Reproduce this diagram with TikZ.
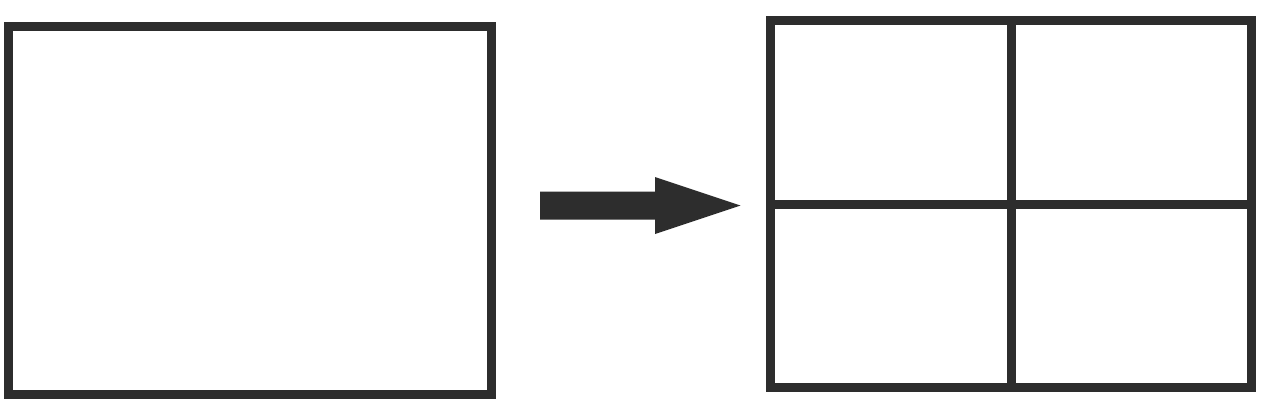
\documentclass[tikz,border=0pt]{standalone}
\usepackage{tikz}
\usetikzlibrary{positioning,calc}
\definecolor{inkDark}{RGB}{45, 45, 45}
\definecolor{inkWhite}{RGB}{255, 255, 255}

\begin{document}
\begin{tikzpicture}[x=1pt, y=-1pt, line width=9pt]
                \useasboundingbox[fill=inkWhite] (0,0) rectangle (1263,410);
                % single frame
                \draw[inkDark] (8.5,26.5) rectangle (491,394.5);
                % arrow
                \fill[inkDark] (540,191.5) -- (655,191.5) -- (655,177) -- (740.5,205.5)
                    -- (655,234) -- (655,219.5) -- (540,219.5) -- cycle;
                % frame split into four
                \draw[inkDark] (770,20) rectangle (1251.5,387);
                \draw[inkDark] (1011.5,20) -- (1011.5,387);
                \draw[inkDark] (770,204) -- (1251.5,204);
            \end{tikzpicture}
\end{document}
